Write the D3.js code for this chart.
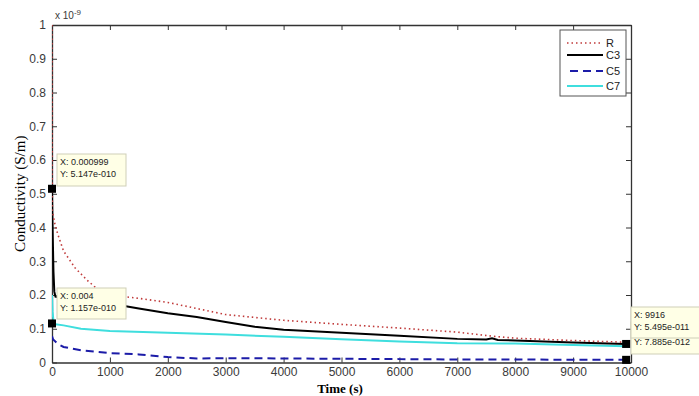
<!DOCTYPE html>
<html>
<head>
<meta charset="utf-8">
<script src="https://cdn.jsdelivr.net/npm/d3@7"></script>
<style>
  body { margin: 0; background: #fff; }
  svg { display: block; }
</style>
</head>
<body>
<div id="chart"></div>
<script>
// values in units of 1e-9 S/m
var seriesNames = ['R', 'C3', 'C5', 'C7'];

var tR = [0, 5, 50, 100, 200, 400, 600, 800, 1000, 1500, 2000, 2500, 3000, 4000, 5000, 6000, 7000, 7600, 8000, 9000, 9916];
var vR = [1.0, 0.45, 0.41, 0.38, 0.33, 0.28, 0.245, 0.215, 0.2, 0.19, 0.178, 0.16, 0.142, 0.125, 0.113, 0.102, 0.09, 0.078, 0.072, 0.065, 0.06];

var tC3 = [0, 10, 25, 40, 60, 200, 1000, 1500, 2000, 2500, 3000, 3500, 4000, 5000, 6000, 7000, 7500, 7600, 7700, 8000, 9000, 9916];
var vC3 = [0.5147, 0.4, 0.27, 0.21, 0.195, 0.19, 0.175, 0.16, 0.146, 0.135, 0.12, 0.106, 0.097, 0.088, 0.079, 0.07, 0.068, 0.072, 0.067, 0.065, 0.059, 0.05495];

var tC5 = [0, 20, 100, 200, 500, 1000, 1500, 2000, 2500, 3000, 4000, 5000, 6000, 7000, 8000, 9000, 9916];
var vC5 = [0.078, 0.068, 0.055, 0.046, 0.036, 0.028, 0.024, 0.016, 0.012, 0.013, 0.012, 0.011, 0.01, 0.009, 0.009, 0.008, 0.007885];

var tC7 = [0, 10, 30, 60, 200, 500, 1000, 2000, 3000, 4000, 5000, 6000, 7000, 8000, 9000, 9916];
var vC7 = [0.2, 0.15, 0.1157, 0.113, 0.11, 0.1, 0.093, 0.088, 0.083, 0.076, 0.069, 0.062, 0.057, 0.056, 0.052, 0.048];

var xTicks = [0, 1000, 2000, 3000, 4000, 5000, 6000, 7000, 8000, 9000, 10000];
var yTicks = [0, 0.1, 0.2, 0.3, 0.4, 0.5, 0.6, 0.7, 0.8, 0.9, 1];

var W = 699, H = 396;
var margin = { top: 25, right: 68, bottom: 33.5, left: 52 };

var svg = d3.select('#chart').append('svg')
  .attr('width', W).attr('height', H);

var x = d3.scaleLinear().domain([0, 10000]).range([margin.left, W - margin.right]);
var y = d3.scaleLinear().domain([0, 1]).range([H - margin.bottom, margin.top]);

svg.append('clipPath').attr('id', 'clip')
  .append('rect')
  .attr('x', x(0)).attr('y', y(1))
  .attr('width', x(10000) - x(0)).attr('height', y(0) - y(1));

var tickFmt = function (d) { return d === 0 ? '0' : d3.format('.1~f')(d); };
var axisColor = '#333';

// axes, ticks inward on all four sides
var gx = svg.append('g').attr('transform', 'translate(0,' + y(0) + ')')
  .call(d3.axisBottom(x).tickValues(xTicks).tickSizeInner(-5).tickSizeOuter(0).tickPadding(5).tickFormat(d3.format('d')));
var gxt = svg.append('g').attr('transform', 'translate(0,' + y(1) + ')')
  .call(d3.axisTop(x).tickValues(xTicks).tickSizeInner(-5).tickSizeOuter(0).tickFormat(''));
var gy = svg.append('g').attr('transform', 'translate(' + x(0) + ',0)')
  .call(d3.axisLeft(y).tickValues(yTicks).tickSizeInner(-5).tickSizeOuter(0).tickPadding(6).tickFormat(tickFmt));
var gyr = svg.append('g').attr('transform', 'translate(' + x(10000) + ',0)')
  .call(d3.axisRight(y).tickValues(yTicks).tickSizeInner(-5).tickSizeOuter(0).tickFormat(''));

[gx, gxt, gy, gyr].forEach(function (g) {
  g.select('.domain').attr('stroke', axisColor).attr('stroke-width', 1.3);
  g.selectAll('.tick line').attr('stroke', axisColor);
  g.selectAll('.tick text')
    .attr('font-family', 'Arial, "Liberation Sans", sans-serif')
    .attr('font-size', 12)
    .attr('fill', '#3a3a3a');
});

// x 10^-9 exponent label
var ex = svg.append('text')
  .attr('x', x(0) + 3).attr('y', y(1) - 6)
  .attr('font-family', 'Arial, "Liberation Sans", sans-serif')
  .attr('font-size', 10).attr('fill', '#3a3a3a');
ex.append('tspan').text('x 10');
ex.append('tspan').attr('dy', -4).attr('font-size', 8).text('-9');

// axis titles
svg.append('text')
  .attr('x', 340).attr('y', 393)
  .attr('text-anchor', 'middle')
  .attr('font-family', '"Liberation Serif", "Times New Roman", serif')
  .attr('font-weight', 'bold').attr('font-size', 13)
  .text('Time (s)');

svg.append('text')
  .attr('transform', 'translate(25,' + ((y(0) + y(1)) / 2) + ') rotate(-90)')
  .attr('text-anchor', 'middle')
  .attr('font-family', '"Liberation Serif", "Times New Roman", serif')
  .attr('font-size', 15)
  .text('Conductivity (S/m)');

// series
var series = [
  { name: 'R', t: tR, v: vR, color: '#c03a3a', width: 1.6, dash: '1.5,3' },
  { name: 'C3', t: tC3, v: vC3, color: '#000', width: 2, dash: null },
  { name: 'C5', t: tC5, v: vC5, color: '#1c1ca8', width: 2, dash: '8,5' },
  { name: 'C7', t: tC7, v: vC7, color: '#3fdede', width: 2, dash: null }
];

var line = d3.line()
  .x(function (d) { return x(d[0]); })
  .y(function (d) { return y(d[1]); });

var plot = svg.append('g').attr('clip-path', 'url(#clip)');
// draw order: C7 under, then C5, C3, R on top
[series[3], series[2], series[1], series[0]].forEach(function (s) {
  plot.append('path')
    .datum(d3.zip(s.t, s.v))
    .attr('fill', 'none')
    .attr('stroke', s.color)
    .attr('stroke-width', s.width)
    .attr('stroke-dasharray', s.dash)
    .attr('d', line);
});

// legend
var legendY = [43, 55, 71, 86];
var lg = svg.append('g');
lg.append('rect')
  .attr('x', 560).attr('y', 30).attr('width', 66).attr('height', 66)
  .attr('fill', '#fff').attr('stroke', '#555').attr('stroke-width', 1);
series.forEach(function (s, i) {
  lg.append('line')
    .attr('x1', s.name === 'C5' ? 570 : 567).attr('x2', 603)
    .attr('y1', legendY[i]).attr('y2', legendY[i])
    .attr('stroke', s.color).attr('stroke-width', s.width)
    .attr('stroke-dasharray', s.dash);
  lg.append('text')
    .attr('x', 606).attr('y', legendY[i] + 4)
    .attr('font-family', 'Arial, "Liberation Sans", sans-serif')
    .attr('font-size', 11).attr('fill', '#222')
    .text(s.name);
});

// data tips
function tipBox(bx, by, bw, bh, lines) {
  svg.append('rect')
    .attr('x', bx).attr('y', by).attr('width', bw).attr('height', bh)
    .attr('fill', '#ffffe6').attr('stroke', '#cfcfb8').attr('stroke-width', 1);
  lines.forEach(function (l, i) {
    svg.append('text')
      .attr('x', bx + 3).attr('y', by + 11 + i * 11.5)
      .attr('font-family', 'Arial, "Liberation Sans", sans-serif')
      .attr('font-size', 9).attr('fill', '#222')
      .text(l);
  });
}
function marker(t, v) {
  svg.append('rect')
    .attr('x', x(t) - 4).attr('y', y(v) - 4)
    .attr('width', 8).attr('height', 8).attr('fill', '#000');
}

tipBox(57, 154, 69, 32, ['X: 0.000999', 'Y: 5.147e-010']);
tipBox(57, 288, 69, 31, ['X: 0.004', 'Y: 1.157e-010']);
tipBox(631, 322, 75, 32, ['', 'Y: 7.885e-012']);
tipBox(631, 307, 75, 31, ['X: 9916', 'Y: 5.495e-011']);

marker(0.000999, 0.5147);
marker(0.004, 0.1157);
marker(9916, 0.05495);
marker(9916, 0.007885);
</script>
</body>
</html>
